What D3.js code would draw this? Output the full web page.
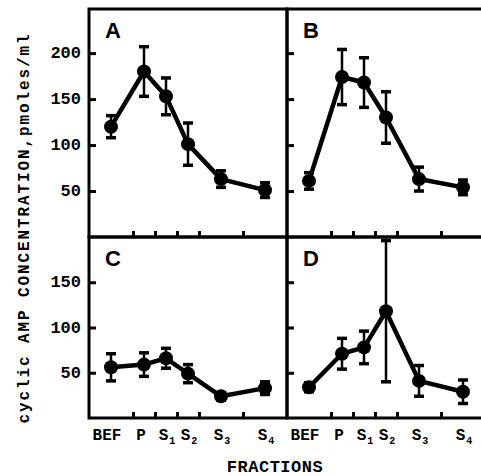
<!DOCTYPE html>
<html>
<head>
<meta charset="utf-8">
<script src="https://cdn.jsdelivr.net/npm/d3@7"></script>
<style>
  html, body { margin: 0; padding: 0; background: #fff; }
  svg { display: block; }
</style>
</head>
<body>
<svg id="chart" width="481" height="476"></svg>
<script>
// ---- data ----
const fractions = ["BEF", "P", "S1", "S2", "S3", "S4"];
const fractionBase = ["BEF", "P", "S", "S", "S", "S"];
const fractionSub = ["", "", "1", "2", "3", "4"];
const fractionPos = [1, 2.5, 3.5, 4.5, 6, 8];
const xTickPos = [2, 3, 4, 5, 7];

const meanA = [120, 180, 153, 101, 63, 51];
const errA  = [12, 27, 20, 23, 9, 8];
const meanB = [61, 174, 168, 130, 63, 54];
const errB  = [9, 30, 27, 28, 13, 8];
const meanC = [56, 59, 66, 49, 24, 33];
const errC  = [15, 13, 11, 10, 4, 7];
const meanD = [34, 71, 78, 118, 41, 29];
const errD  = [5, 17, 18, 78, 17, 13];

const topTicks = [50, 100, 150, 200];
const bottomTicks = [50, 100, 150];
const panelNames = ["A", "B", "C", "D"];

// ---- layout ----
const svg = d3.select("#chart");
const left = 89, colW = 198;
const rows = [
  { top: 9, bottom: 237, domain: [0, 248], ticks: topTicks },
  { top: 237, bottom: 418, domain: [0, 200], ticks: bottomTicks }
];
const panels = [
  { name: panelNames[0], col: 0, row: 0, mean: meanA, err: errA },
  { name: panelNames[1], col: 1, row: 0, mean: meanB, err: errB },
  { name: panelNames[2], col: 0, row: 1, mean: meanC, err: errC },
  { name: panelNames[3], col: 1, row: 1, mean: meanD, err: errD }
];

const monoFont = "'Liberation Mono', 'DejaVu Sans Mono', monospace";

panels.forEach(p => {
  const r = rows[p.row];
  const x0 = left + p.col * colW;
  const x = d3.scaleLinear().domain([0, 9]).range([x0, x0 + colW]);
  const y = d3.scaleLinear().domain(r.domain).range([r.bottom, r.top]);
  const g = svg.append("g");

  // frame
  g.append("rect")
    .attr("x", x0).attr("y", r.top)
    .attr("width", colW).attr("height", r.bottom - r.top)
    .attr("fill", "none").attr("stroke", "#000").attr("stroke-width", 3);

  // y ticks (inward)
  const yAxis = d3.axisRight(y).tickValues(r.ticks).tickSize(7).tickFormat("");
  const ya = g.append("g").attr("transform", `translate(${x0},0)`).call(yAxis);
  ya.select(".domain").remove();
  ya.selectAll(".tick line").attr("stroke", "#000").attr("stroke-width", 3);

  if (p.col === 0) {
    g.selectAll(".ylab").data(r.ticks).enter().append("text")
      .attr("x", x0 - 8).attr("y", d => y(d) + 5)
      .attr("text-anchor", "end")
      .attr("font-family", monoFont).attr("font-weight", "bold")
      .attr("font-size", 17).text(d => d);
  }

  // x ticks (inward, upward)
  const xAxis = d3.axisTop(x).tickValues(xTickPos).tickSize(6).tickFormat("");
  const xa = g.append("g").attr("transform", `translate(0,${r.bottom})`).call(xAxis);
  xa.select(".domain").remove();
  xa.selectAll(".tick line").attr("stroke", "#000").attr("stroke-width", 3);

  // panel letter
  g.append("text")
    .attr("x", x0 + 16).attr("y", r.top + 29)
    .attr("font-family", "'Liberation Sans', Arial, sans-serif")
    .attr("font-weight", "bold").attr("font-size", 22)
    .text(p.name);

  const data = fractions.map((f, i) => ({ f, xp: fractionPos[i], m: p.mean[i], e: p.err[i] }));

  // error bars
  const eb = g.selectAll(".eb").data(data).enter().append("g");
  eb.append("line")
    .attr("x1", d => x(d.xp)).attr("x2", d => x(d.xp))
    .attr("y1", d => y(d.m + d.e)).attr("y2", d => y(d.m - d.e))
    .attr("stroke", "#000").attr("stroke-width", 2.5);
  [1, -1].forEach(s => {
    eb.append("line")
      .attr("x1", d => x(d.xp) - 5).attr("x2", d => x(d.xp) + 5)
      .attr("y1", d => y(d.m + s * d.e)).attr("y2", d => y(d.m + s * d.e))
      .attr("stroke", "#000").attr("stroke-width", 3.5);
  });

  // line
  g.append("path").datum(data)
    .attr("d", d3.line().x(d => x(d.xp)).y(d => y(d.m)))
    .attr("fill", "none").attr("stroke", "#000").attr("stroke-width", 4.5)
    .attr("stroke-linejoin", "round");

  // markers
  g.selectAll(".pt").data(data).enter().append("circle")
    .attr("cx", d => x(d.xp)).attr("cy", d => y(d.m)).attr("r", 7)
    .attr("fill", "#000");

  // x labels below bottom row
  if (p.row === 1) {
    const t = g.selectAll(".xl").data(fractions.map((f, i) => i)).enter().append("text")
      .attr("x", i => x(fractionPos[i]) + (i === 0 ? -4 : (i === 1 ? -3 : 1)))
      .attr("y", 440)
      .attr("text-anchor", "middle")
      .attr("font-family", monoFont).attr("font-weight", "bold")
      .attr("font-size", 16);
    t.append("tspan").text(i => fractionBase[i]);
    t.append("tspan").attr("dy", 4).attr("dx", 1).attr("font-size", 10).text(i => fractionSub[i]);
  }
});

// y axis title
svg.append("text")
  .attr("transform", "translate(29,228) rotate(-90)")
  .attr("text-anchor", "middle")
  .attr("font-family", monoFont).attr("font-weight", "bold")
  .attr("font-size", 16).attr("letter-spacing", 1.9)
  .text("cyclic AMP CONCENTRATION,pmoles/ml");

// x axis title
svg.append("text")
  .attr("x", 275).attr("y", 472)
  .attr("text-anchor", "middle")
  .attr("font-family", monoFont).attr("font-weight", "bold")
  .attr("font-size", 17).attr("letter-spacing", 0.5)
  .text("FRACTIONS");
</script>
</body>
</html>
